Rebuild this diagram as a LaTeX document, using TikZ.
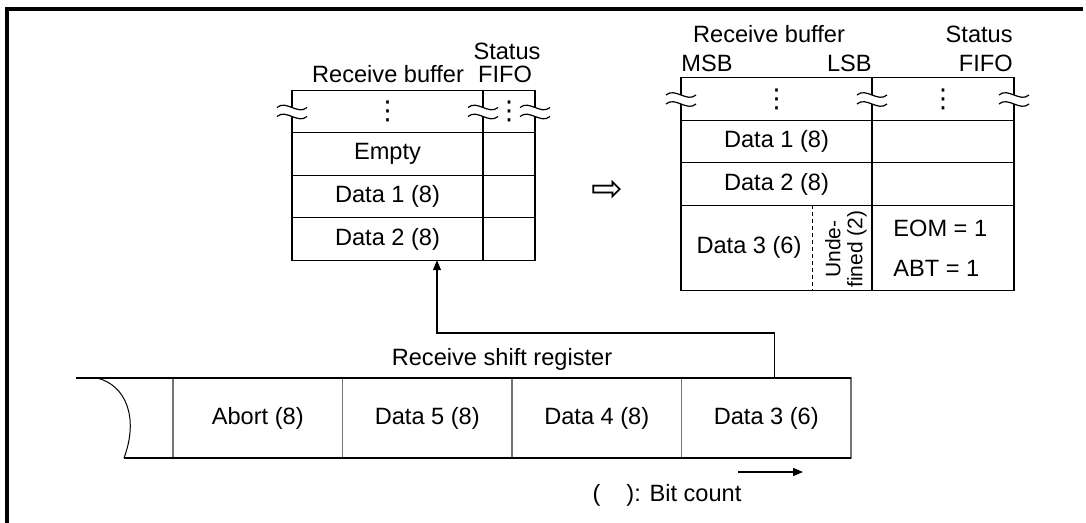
\documentclass[tikz,border=0pt]{standalone}
\usepackage{fontspec}
\setmainfont{Liberation Sans}
\newfontfamily\symfont{DejaVu Sans}
\usepackage{tikz}
\usetikzlibrary{arrows.meta,positioning,calc}

\newcommand{\vdts}{{\symfont\fontsize{13}{13}\selectfont ⋮}}

\begin{document}
\begin{tikzpicture}[
 x=0.5pt, y=-0.5pt,
 cell/.style={draw, rectangle, inner sep=0pt, outer sep=0pt, line width=0.65pt},
 buf/.style={cell, minimum width=95.5pt, minimum height=21.25pt},
 lfifo/.style={cell, minimum width=26pt, minimum height=21.25pt},
 rfifo/.style={cell, minimum width=71pt, minimum height=21.25pt},
 regcell/.style={cell, draw=black!55, minimum width=84.75pt, minimum height=40pt},
 lbl/.style={inner sep=0pt},
 flow/.style={-{Triangle[length=5pt,width=4pt]}, line width=0.65pt},
 brk/.pic={
  \fill[white] (-15,-4) .. controls (-6,-12) and (6,4) .. (15,-4) -- (15,5)
   .. controls (6,13) and (-6,-3) .. (-15,5) -- cycle;
  \draw[line width=0.6pt] (-15,-4) .. controls (-6,-12) and (6,4) .. (15,-4);
  \draw[line width=0.6pt] (-15,5) .. controls (-6,-3) and (6,13) .. (15,5);
 },
 node distance=0pt,
 font=\fontsize{11.8}{14}\selectfont
]
\useasboundingbox (0,0) rectangle (1086,523);
\draw[line width=2pt] (7,523) -- (7,9) -- (1083,9);

% left buffer
\node[buf] (lb0) at (387.5,111.5) {\vdts};
\node[buf, below=of lb0] (lb1) {Empty};
\node[buf, below=of lb1] (lb2) {Data 1 (8)};
\node[buf, below=of lb2] (lb3) {Data 2 (8)};
\node[lfifo, right=of lb0] (lf0) {\vdts};
\node[lfifo, right=of lb1] (lf1) {};
\node[lfifo, right=of lb2] (lf2) {};
\node[lfifo, right=of lb3] (lf3) {};
\pic at (lb0.west) {brk};
\pic at (lb0.east) {brk};
\pic at (lf0.east) {brk};
\node[lbl, anchor=base] (lbuf) at (388,83) {Receive buffer};
\node[lbl, anchor=base] (lstat) at (507,60) {Status};
\node[lbl, anchor=base] (lfifo) at (505,83) {FIFO};

\node (go) at (607,191) {\symfont\fontsize{19}{19}\selectfont ⇨};

% right buffer
\node[buf] (rb0) at (776.5,99) {\vdts};
\node[buf, below=of rb0] (rb1) {Data 1 (8)};
\node[buf, below=of rb1] (rb2) {Data 2 (8)};
\node[buf, minimum height=42.5pt, below=of rb2] (rb3) {};
\node[rfifo, right=of rb0] (rf0) {\vdts};
\node[rfifo, right=of rb1] (rf1) {};
\node[rfifo, right=of rb2] (rf2) {};
\node[rfifo, minimum height=42.5pt, right=of rb3] (rf3) {};
\pic at (rb0.west) {brk};
\pic at (rb0.east) {brk};
\pic at (rf0.east) {brk};
\draw[dash pattern=on 2pt off 1.5pt, line width=0.5pt] ([xshift=65.5pt]rb3.north west) -- ([xshift=65.5pt]rb3.south west);
\node[lbl] (d3) at (749,247) {Data 3 (6)};
\node[lbl, rotate=90, align=center, font=\fontsize{10.5}{11}\selectfont] (und) at (846,249) {Unde-\\fined (2)};
\node[lbl, anchor=base west] (eom) at (893,237) {EOM = 1};
\node[lbl, anchor=base west] (abt) at (893,277) {ABT = 1};
\node[lbl, anchor=base] (rbuf) at (769,43) {Receive buffer};
\node[lbl, anchor=base west] (msb) at (681,72) {MSB};
\node[lbl, anchor=base east] (lsb) at (872,72) {LSB};
\node[lbl, anchor=base east] (rstat) at (1013,43) {Status};
\node[lbl, anchor=base east] (rfifo) at (1013,72) {FIFO};

% shift register
\node[regcell] (rg1) at (257.75,418) {Abort (8)};
\node[regcell, right=of rg1] (rg2) {Data 5 (8)};
\node[regcell, right=of rg2] (rg3) {Data 4 (8)};
\node[regcell, right=of rg3] (rg4) {Data 3 (6)};
\coordinate (tailtop) at (76,378);
\coordinate (tailbot) at (124,458);
\draw[line width=0.65pt] (tailtop) -- (rg4.north east);
\draw[line width=0.65pt] (tailbot) -- (rg4.south east);
\draw[line width=0.5pt] (97,378) .. controls (126,385) and (139,418) .. (tailbot);
\node[lbl] (srl) at (502,359) {Receive shift register};

\draw[flow] ([xshift=4pt]rg4.north) -- ++(0,-45) -| ([xshift=24.75pt]lb3.south);

\coordinate (dira) at (738,472);
\coordinate (dirb) at (803,472);
\draw[flow] (dira) -- (dirb);
\node[lbl] (bitc) at (667,495) {(\hspace{13pt}): Bit count};
\end{tikzpicture}
\end{document}
